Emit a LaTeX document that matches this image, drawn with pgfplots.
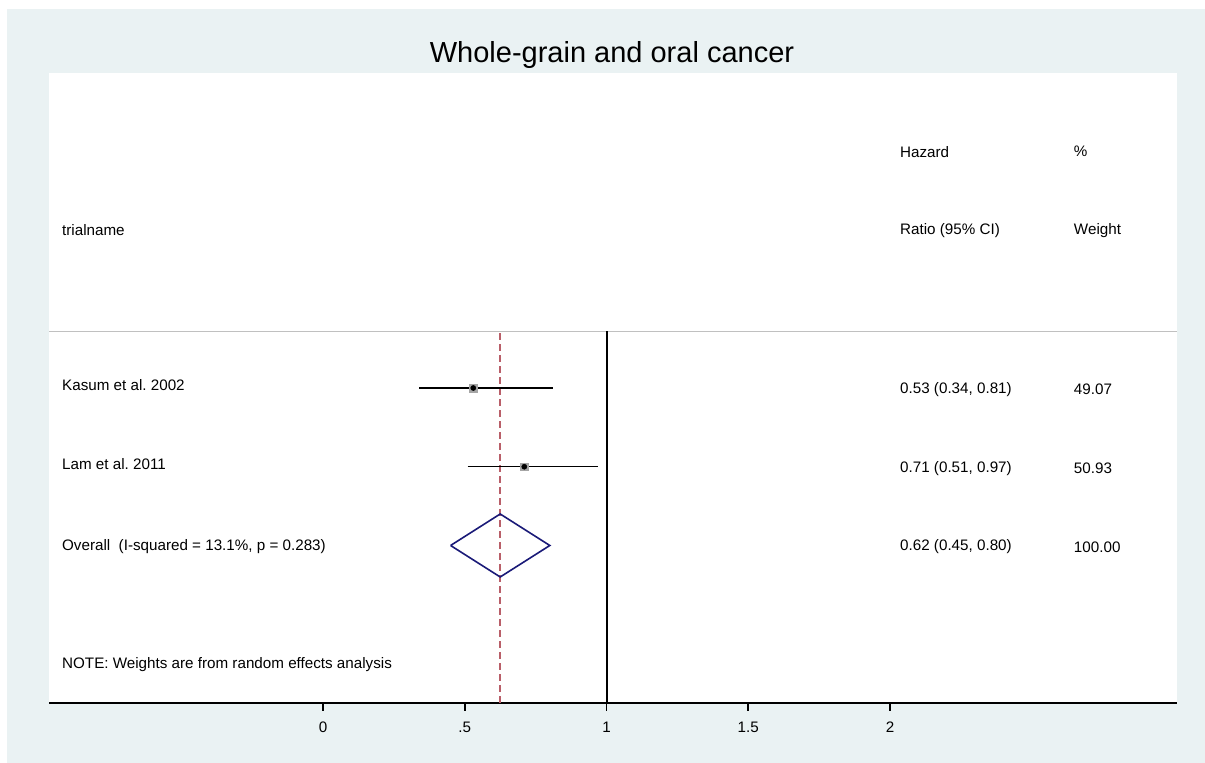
\documentclass[border=0pt]{standalone}
\usepackage{fontspec}
\setmainfont{Liberation Sans}
\usepackage{pgfplots}
\usepackage{pgfplotstable}
\pgfplotsset{compat=1.18}
\definecolor{bgblue}{RGB}{234,242,243}
\definecolor{dnavy}{RGB}{26,26,120}
\definecolor{refred}{RGB}{185,95,105}
\definecolor{sepgray}{RGB}{192,192,192}
\definecolor{boxgray}{RGB}{165,165,165}

% row  est   lo    hi
\pgfplotstableread{
row est lo hi
4 0.53 0.34 0.81
3 0.71 0.51 0.97
}\studies

\tikzset{txt/.style={anchor=west, inner sep=0pt, font=\fontsize{11.4}{13.5}\selectfont}}

\begin{document}
\frenchspacing
\begin{tikzpicture}
\begin{axis}[
  set layers,
  scale only axis, width=846pt, height=472.5pt,
  xmin=-0.9665, xmax=3.0123, ymin=0, ymax=8,
  axis x line=bottom, axis y line=none,
  axis line style={line width=1.5pt, black, -},
  xtick={0,0.5,1,1.5,2}, xticklabels={0,.5,1,1.5,2},
  tick align=outside, major tick length=6pt,
  tick style={line width=1.2pt, black},
  xticklabel style={font=\fontsize{11.4}{13.5}\selectfont, yshift=-5pt},
  clip=false,
]
\begin{pgfonlayer}{axis background}
\fill[white] (rel axis cs:-0.04344,-0.09524) rectangle (rel axis cs:1.02482,1.11587);
\fill[bgblue] (rel axis cs:-0.03723,-0.09524) rectangle (rel axis cs:1.02482,1.10159);
\fill[white] (rel axis cs:0,0) rectangle (rel axis cs:1,1);
\end{pgfonlayer}
\node[font=\fontsize{21.75}{26}\selectfont] at (rel axis cs:0.4991,1.0286) {Whole-grain and oral cancer};
% separator
\addplot[sepgray, line width=1.1pt] coordinates {(-0.9665,4.72) (3.0123,4.72)};
% null line
\addplot[black, line width=1.5pt] coordinates {(1,0) (1,4.72)};
% overall dashed line
\addplot[refred, line width=1.1pt, dash pattern=on 5.25pt off 3pt] coordinates {(0.625,0) (0.625,4.72)};
% CIs
\addplot[black, line width=1.1pt] coordinates {(0.34,4) (0.81,4)};
\addplot[black, line width=1.1pt] coordinates {(0.51,3) (0.97,3)};
% weight boxes
\addplot[only marks, mark=square*, mark size=2.9pt, boxgray, mark options={draw=boxgray, fill=boxgray}] table[x=est, y=row] {\studies};
% point estimates
\addplot[only marks, mark=*, mark size=1.9pt, black] table[x=est, y=row] {\studies};
% diamond
\addplot[dnavy, line width=1.2pt] coordinates {(0.45,2) (0.625,2.4) (0.80,2) (0.625,1.6) (0.45,2)};
% text
\node[txt] at (axis cs:-0.921,6) {trialname};
\node[txt] at (axis cs:2.035,7) {Hazard};
\node[txt] at (axis cs:2.035,6) {Ratio (95\% CI)};
\node[txt] at (axis cs:2.648,7) {\%};
\node[txt] at (axis cs:2.648,6) {Weight};
\node[txt] at (axis cs:-0.921,4.04) {Kasum et al. 2002};
\node[txt] at (axis cs:-0.921,3.04) {Lam et al. 2011};
\node[txt] at (axis cs:-0.921,1.98) {Overall\ \ (I-squared = 13.1\%, p = 0.283)};
\node[txt] at (axis cs:2.035,3.98) {0.53 (0.34, 0.81)};
\node[txt] at (axis cs:2.035,2.98) {0.71 (0.51, 0.97)};
\node[txt] at (axis cs:2.035,1.98) {0.62 (0.45, 0.80)};
\node[txt] at (axis cs:2.648,3.98) {49.07};
\node[txt] at (axis cs:2.648,2.98) {50.93};
\node[txt] at (axis cs:2.648,1.98) {100.00};
\node[txt] at (axis cs:-0.921,0.49) {NOTE: Weights are from random effects analysis};
\end{axis}
\end{tikzpicture}
\end{document}
